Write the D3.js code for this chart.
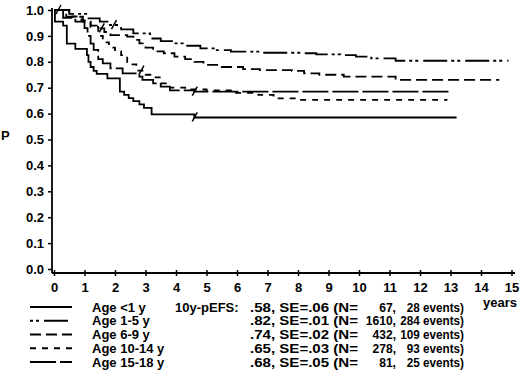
<!DOCTYPE html>
<html>
<head>
<meta charset="utf-8">
<script src="https://cdn.jsdelivr.net/npm/d3@7"></script>
<style>
  body { margin: 0; background: #fff; }
  svg { display: block; font-family: "Liberation Sans", Arial, sans-serif; font-weight: bold; }
</style>
</head>
<body>
<svg id="chart" width="520" height="370"></svg>
<script>
(function() {

// ---------------- data ----------------
const groups = ["Age <1 y", "Age 1-5 y", "Age 6-9 y", "Age 10-14 y", "Age 15-18 y"];
const pEFS = [".58", ".82", ".74", ".65", ".68"];
const se = [".06", ".01", ".02", ".03", ".05"];
const nPatients = ["67", "1610", "432", "278", "81"];
const nEvents = ["28", "284", "109", "93", "25"];

const xTicks = d3.range(0, 16);
const yTicks = [0, 0.1, 0.2, 0.3, 0.4, 0.5, 0.6, 0.7, 0.8, 0.9, 1.0];

// [years, P] step points
const ageUnder1 = [[0,1],[0.03,0.955],[0.3,0.94],[0.42,0.87],[0.7,0.85],[1.08,0.826],[1.13,0.80],
  [1.2,0.78],[1.3,0.765],[1.4,0.753],[1.75,0.736],[2.16,0.685],[2.3,0.672],[2.45,0.66],[2.6,0.648],
  [2.8,0.636],[2.95,0.622],[3.2,0.597],[4.6,0.585],[13.2,0.585]];
const age1to5 = [[0,1],[0.5,0.985],[1.1,0.968],[1.5,0.955],[1.8,0.942],[2.2,0.925],[2.6,0.91],
  [3.15,0.89],[3.5,0.88],[3.9,0.871],[4.3,0.862],[4.8,0.852],[5.3,0.845],[5.8,0.839],[6.75,0.835],
  [8.1,0.833],[8.6,0.829],[9.4,0.826],[9.9,0.82],[10.4,0.813],[11.2,0.804],[14.9,0.804]];
const age6to9 = [[0,1],[0.4,0.974],[0.95,0.955],[1.2,0.94],[1.4,0.929],[1.65,0.915],[1.85,0.903],
  [2.4,0.897],[2.6,0.885],[2.8,0.871],[3.0,0.855],[3.25,0.84],[3.6,0.833],[3.95,0.82],[4.3,0.81],
  [4.6,0.80],[4.9,0.788],[5.5,0.78],[6.2,0.772],[6.75,0.768],[7.8,0.765],[8.2,0.755],[8.7,0.75],
  [9.5,0.743],[11.2,0.73],[14.6,0.73]];
const age10to14 = [[0,1],[0.5,0.975],[0.9,0.96],[1.2,0.935],[1.45,0.90],[1.6,0.875],[1.8,0.855],
  [2.0,0.84],[2.2,0.826],[2.4,0.79],[2.7,0.766],[3.0,0.75],[3.3,0.74],[3.5,0.717],[3.8,0.70],
  [4.3,0.693],[5.0,0.69],[5.8,0.68],[6.7,0.672],[7.2,0.659],[8.1,0.653],[12.9,0.653]];
const age15to18 = [[0,1],[0.3,0.97],[0.7,0.955],[1.0,0.93],[1.1,0.90],[1.2,0.87],[1.3,0.846],
  [1.45,0.81],[1.6,0.794],[1.85,0.775],[2.25,0.755],[2.8,0.743],[2.9,0.73],[3.25,0.717],[3.5,0.704],
  [3.8,0.69],[4.6,0.685],[13.0,0.685]];

const series = [ageUnder1, age1to5, age6to9, age10to14, age15to18];
const dashes = [null, "24,4,3,3,3,5", "11,5", "6,6", "26,4"];
const legendOffset = [0, 28, 0, 0, 0];

// censor-like tick marks: [group index, years]
const marks = [[0, 4.6], [4, 4.6], [3, 2.85], [2, 1.55], [1, 1.95], [1, 0.13]];

// ---------------- scales ----------------
const svg = d3.select("#chart");
const x = d3.scaleLinear().domain([0, 15]).range([54, 511.5]);
const y = d3.scaleLinear().domain([0, 1]).range([269, 10]);

// axes lines
svg.append("line").attr("x1", 52).attr("x2", 52).attr("y1", 8).attr("y2", 273)
  .attr("stroke", "#000").attr("stroke-width", 1.8);
svg.append("line").attr("x1", 52).attr("x2", 515).attr("y1", 273).attr("y2", 273)
  .attr("stroke", "#000").attr("stroke-width", 1.8);

// y axis
const yAxis = svg.append("g").attr("transform", "translate(52,0)")
  .call(d3.axisLeft(y).tickValues(yTicks).tickFormat(d3.format(".1f")).tickSize(4).tickPadding(4));
yAxis.select(".domain").remove();
yAxis.selectAll("line").attr("stroke-width", 1.5);
yAxis.selectAll("text").attr("font-size", 13).attr("font-family", null).attr("fill", "#000");

// x axis
const xAxis = svg.append("g").attr("transform", "translate(0,273)")
  .call(d3.axisBottom(x).tickValues(xTicks).tickFormat(d3.format("d")).tickSize(3).tickPadding(7));
xAxis.select(".domain").remove();
xAxis.selectAll("line").attr("y1", -3).attr("stroke-width", 1.5);
xAxis.selectAll("text").attr("font-size", 13).attr("font-family", null).attr("fill", "#000");

svg.append("text").attr("x", 483).attr("y", 307).attr("font-size", 13).text("years");
svg.append("text").attr("x", 1).attr("y", 140).attr("font-size", 13).text("P");

// curves
const line = d3.line().x(d => x(d[0])).y(d => y(d[1])).curve(d3.curveStepAfter);
svg.selectAll("path.km")
  .data(series)
  .join("path")
    .attr("class", "km")
    .attr("d", line)
    .attr("fill", "none")
    .attr("stroke", "#000")
    .attr("stroke-width", 1.8)
    .attr("stroke-dasharray", (d, i) => dashes[i]);

// tick marks on curves
function valueAt(s, t) {
  let v = s[0][1];
  s.forEach(d => { if (d[0] <= t) v = d[1]; });
  return v;
}
svg.selectAll("line.mark")
  .data(marks)
  .join("line")
    .attr("class", "mark")
    .attr("x1", d => x(d[1]) - 2)
    .attr("y1", d => y(valueAt(series[d[0]], d[1])) + 4)
    .attr("x2", d => x(d[1]) + 3)
    .attr("y2", d => y(valueAt(series[d[0]], d[1])) - 5)
    .attr("stroke", "#000")
    .attr("stroke-width", 1.5);

// legend
const rowY = i => 311.5 + 13.75 * i;
const legend = svg.append("g");

function condense(sel, factor) {
  const len = sel.node().getComputedTextLength();
  sel.attr("textLength", len * factor).attr("lengthAdjust", "spacingAndGlyphs");
}

groups.forEach((g, i) => {
  legend.append("line")
    .attr("x1", 30).attr("x2", 72)
    .attr("y1", rowY(i) - 4.5).attr("y2", rowY(i) - 4.5)
    .attr("stroke", "#000").attr("stroke-width", 1.8)
    .attr("stroke-dasharray", dashes[i])
    .attr("stroke-dashoffset", legendOffset[i]);
  legend.append("text").attr("x", 92).attr("y", rowY(i)).attr("font-size", 13).text(g);
  legend.append("text").attr("x", 250).attr("y", rowY(i)).attr("font-size", 13)
    .attr("textLength", 108).attr("lengthAdjust", "spacingAndGlyphs")
    .text(`${pEFS[i]}, SE=${se[i]} (N=`);
  const nt = legend.append("text").attr("x", 396).attr("y", rowY(i)).attr("font-size", 13)
    .attr("text-anchor", "end").text(`${nPatients[i]},`);
  condense(nt, 0.93);
  const et = legend.append("text").attr("x", 464).attr("y", rowY(i)).attr("font-size", 13)
    .attr("text-anchor", "end").text(`${nEvents[i]} events)`);
  condense(et, 0.9);
});
legend.append("text").attr("x", 175).attr("y", rowY(0)).attr("font-size", 13).text("10y-pEFS:");

})();
</script>
</body>
</html>
